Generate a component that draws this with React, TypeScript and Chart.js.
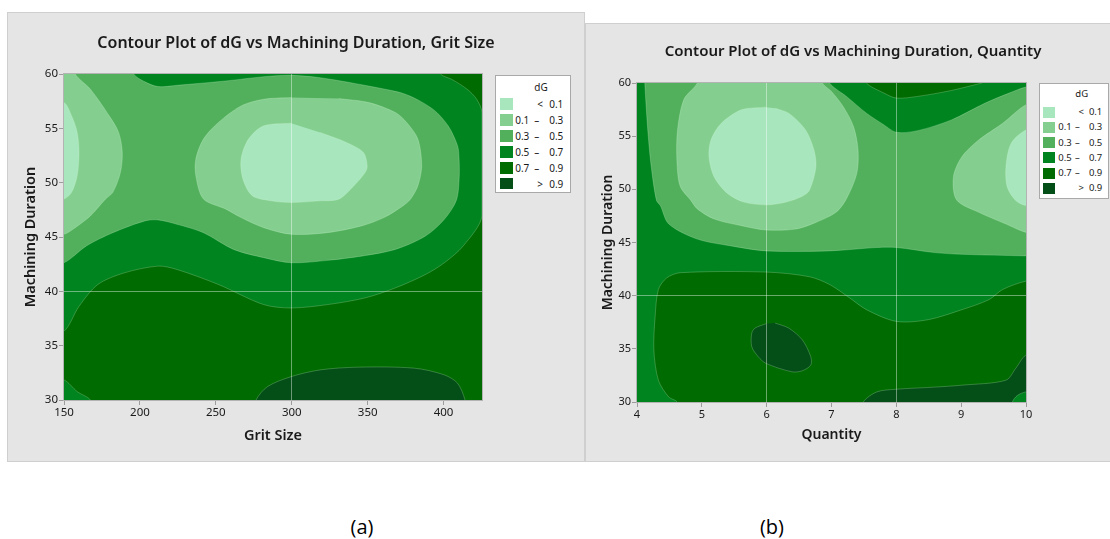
import React, { useEffect, useRef } from "react";
import { Chart, registerables } from "chart.js";

Chart.register(...registerables);

type Pt = [number, number];

// ---------------- legend bands ----------------
const bandColors = ["#a8e6bd", "#84cf90", "#52b05c", "#00841f", "#006b00", "#034f17"];
const bandLow = ["", "0.1", "0.3", "0.5", "0.7", ""];
const bandSymbol = ["<", "–", "–", "–", "–", ">"];
const bandHigh = ["0.1", "0.3", "0.5", "0.7", "0.9", "0.9"];

// ---------------- shared axis ----------------
const durationTicks = [30, 35, 40, 45, 50, 55, 60];
const durationMin = 30;
const durationMax = 60;

// ---------------- panel (a): Grit Size ----------------
const gritTicks = [150, 200, 250, 300, 350, 400];
const gritMin = 150;
const gritMax = 425.3;
const gritRefX = [300];
const gritRefY = [40];

const gritIslandAbove09: Pt[] = [
  [414.1, 29], [414.1, 30], [409.2, 31.54], [400.5, 32.31], [380.7, 32.93], [343.5, 33.02],
  [318.7, 32.77], [299.6, 32.15], [284, 31.23], [276.5, 30], [276.5, 29],
];
const gritBelow07: Pt[] = [
  [140, 36.32], [150, 36.32], [159.9, 38.62], [172.3, 40.63], [189.7, 41.7], [212, 42.32],
  [224.4, 42.01], [251.7, 40.63], [281.5, 38.78], [299.6, 38.47], [323.6, 38.78], [348.4, 39.4],
  [368.3, 40.32], [388.1, 41.55], [400.5, 42.63], [412.9, 44.17], [425.3, 46.94], [425.3, 56.45],
  [421.7, 57.7], [415.5, 58.6], [405.5, 59.5], [398, 60], [398, 61], [140, 61],
];
const gritCornerBelow07: Pt[] = [
  [140, 31.85], [150, 31.85], [158.7, 30.77], [167.4, 30], [167.4, 29], [140, 29],
];
const gritBelow05: Pt[] = [
  [140, 42.63], [150, 42.63], [165, 44.2], [182.2, 45.4], [203.3, 46.48], [212, 46.57],
  [224.4, 46.17], [241.8, 45.4], [261.6, 43.86], [281.5, 43.1], [299.6, 42.63], [323.6, 42.85],
  [345.9, 43.24], [368.3, 43.86], [388.1, 45.09], [400.5, 46.63], [408.5, 48.4], [410.3, 50.5],
  [410.2, 52.2], [409.2, 53.4], [403, 55.23], [393, 56.76], [375.7, 58.1], [355.9, 58.75],
  [318.7, 59.66], [298.8, 59.88], [281.5, 59.75], [256.6, 59.36], [224.4, 58.96], [212, 58.84],
  [203, 59.3], [195.9, 60], [195.9, 61], [140, 61],
];
const gritLeftBelow03: Pt[] = [
  [140, 45.25], [150, 45.25], [157.4, 45.86], [167.4, 46.94], [177.3, 48.48], [182.2, 49.11],
  [187.2, 50.95], [188.4, 52.78], [186, 54.62], [179.8, 56.15], [167.4, 58.6], [157.4, 60],
  [157.4, 61], [140, 61],
];
const gritCenterBelow03: Pt[] = [
  [299.6, 57.83], [281.5, 57.68], [266.6, 57.06], [251.7, 55.54], [241.8, 54.01], [236.8, 52.17],
  [236.8, 50.64], [241.8, 48.5], [256.6, 47.56], [266.6, 46.79], [281.5, 45.86], [299.6, 45.25],
  [323.6, 45.4], [345.9, 46.02], [360.8, 46.79], [373.2, 47.86], [378.2, 48.48], [383.1, 49.72],
  [385.6, 51.56], [383.1, 54.01], [375.7, 55.54], [368.3, 56.45], [350.9, 57.37], [331, 57.74],
];
const gritLeftBelow01: Pt[] = [
  [140, 57.37], [150, 57.37], [155, 56.15], [158.7, 54.62], [159.9, 52.78], [158.7, 50.64],
  [155, 49.11], [150, 48.5], [140, 48.5],
];
const gritCenterBelow01: Pt[] = [
  [299.6, 55.47], [281.5, 55.23], [271.5, 54.01], [266.6, 52.17], [267.8, 50.34], [274, 48.8],
  [286.4, 48.33], [299.6, 48.17], [318.7, 48.33], [331, 48.48], [341, 49.72], [348.4, 50.95],
  [349.7, 51.56], [347.2, 52.78], [336, 53.7], [318.7, 54.62],
];

// ---------------- panel (b): Quantity ----------------
const quantityTicks = [4, 5, 6, 7, 8, 9, 10];
const quantityMin = 4;
const quantityMax = 10;
const quantityRefX = [6, 8];
const quantityRefY = [40];

const qtyIslandAbove09: Pt[] = [
  [5.99, 37.36], [5.82, 36.95], [5.77, 36.47], [5.77, 35.21], [5.87, 34.26], [5.99, 33.63],
  [6.39, 32.84], [6.55, 32.94], [6.68, 33.47], [6.68, 34.26], [6.55, 35.84], [6.34, 36.95],
  [6.13, 37.42],
];
const qtyBottomAbove09: Pt[] = [
  [10.2, 29], [7.49, 29], [7.49, 30], [7.7, 30.95], [8.0, 31.2], [8.59, 31.4], [9.01, 31.58],
  [9.69, 32.05], [9.84, 33.15], [10, 34.42], [10.2, 34.42],
];
const qtyCornerBelow07: Pt[] = [
  [10.2, 29], [9.79, 29], [9.79, 30], [9.87, 30.63], [10, 30.95], [10.2, 30.95],
];
const qtyBelow07: Pt[] = [
  [4.62, 29], [4.62, 30], [4.49, 30.47], [4.33, 32.05], [4.26, 34.9], [4.28, 38.05],
  [4.33, 40.58], [4.46, 41.68], [4.67, 42.16], [5.99, 42.22], [6.66, 41.78], [6.97, 41.05],
  [7.28, 39.79], [7.54, 38.68], [8.0, 37.58], [8.49, 37.74], [9.01, 38.68], [9.43, 39.63],
  [9.64, 40.58], [10, 41.37], [10.2, 41.37], [10.2, 61], [3.8, 61], [3.8, 29],
];
const qtyTopAbove07: Pt[] = [
  [9.32, 61], [7.54, 61], [7.54, 60], [7.81, 59.05], [8.0, 58.58], [8.33, 58.74],
  [8.85, 59.3], [9.32, 60],
];
const qtyBelow05: Pt[] = [
  [4.12, 61], [4.12, 60], [4.17, 55.27], [4.22, 52.11], [4.3, 48.96], [4.36, 48.47],
  [4.49, 46.74], [4.93, 45.32], [5.45, 44.68], [5.99, 44.21], [6.97, 44.21], [7.7, 44.53],
  [8.0, 44.53], [8.59, 44.05], [9.01, 43.89], [10, 43.74], [10.2, 43.74], [10.2, 59.62],
  [10, 59.62], [9.74, 59.05], [9.37, 58.11], [8.85, 56.53], [8.33, 55.52], [8.0, 55.36],
  [7.81, 56.06], [7.54, 57.16], [7.23, 58.74], [6.97, 60], [6.97, 61],
];
const qtyCenterBelow03: Pt[] = [
  [4.93, 61], [4.93, 60], [4.72, 58.42], [4.62, 55.27], [4.62, 52.11], [4.67, 50.22],
  [4.83, 48.96], [4.93, 48.16], [5.19, 47.21], [5.61, 46.58], [5.99, 46.17], [6.45, 46.26],
  [6.76, 46.89], [7.07, 47.84], [7.23, 49.1], [7.39, 51.48], [7.41, 53.69], [7.34, 55.9],
  [7.18, 57.79], [7.0, 59.2], [6.86, 60], [6.86, 61],
];
const qtyRightBelow03: Pt[] = [
  [10.2, 57.95], [10, 57.95], [9.64, 56.21], [9.27, 54.64], [9.01, 53.06], [8.88, 51.17],
  [8.93, 49.0], [9.27, 47.84], [9.69, 46.74], [10, 45.95], [10.2, 45.95],
];
const qtyCenterBelow01: Pt[] = [
  [5.99, 57.73], [5.61, 57.48], [5.3, 56.21], [5.14, 54.64], [5.11, 53.06], [5.19, 51.17],
  [5.4, 49.59], [5.65, 48.8], [5.99, 48.54], [6.29, 48.79], [6.55, 49.35], [6.66, 49.91],
  [6.76, 52.11], [6.73, 53.69], [6.6, 55.58], [6.34, 57.16], [6.13, 57.63],
];
const qtyRightBelow01: Pt[] = [
  [10.2, 55.58], [10, 55.58], [9.77, 54.32], [9.69, 52.11], [9.71, 50.22], [9.84, 48.96],
  [10, 48.47], [10.2, 48.47],
];

// layers drawn bottom -> top: [band index, polygon]
const gritLayers: [number, Pt[]][] = [
  [5, gritIslandAbove09],
  [3, gritBelow07],
  [3, gritCornerBelow07],
  [2, gritBelow05],
  [1, gritLeftBelow03],
  [1, gritCenterBelow03],
  [0, gritLeftBelow01],
  [0, gritCenterBelow01],
];
const quantityLayers: [number, Pt[]][] = [
  [5, qtyIslandAbove09],
  [5, qtyBottomAbove09],
  [3, qtyCornerBelow07],
  [3, qtyBelow07],
  [4, qtyTopAbove07],
  [2, qtyBelow05],
  [1, qtyCenterBelow03],
  [1, qtyRightBelow03],
  [0, qtyCenterBelow01],
  [0, qtyRightBelow01],
];

// ---------------- styling / layout ----------------
const FONT = "'Noto Sans', 'DejaVu Sans', sans-serif";
const TEXT = "#1a1a1a";

interface PanelSpec {
  left: number; top: number; width: number; height: number;
  title: string; titleSize: number; titlePadTop: number; titlePadBottom: number;
  xTitle: string; yTitle: string; axisTitleSize: number; xTitlePadBottom: number; yTitlePadTop: number;
  xMin: number; xMax: number; xTicks: number[]; refX: number[]; refY: number[];
  yAxisW: number; xAxisH: number; rightW: number; tickSize: number;
  layers: [number, Pt[]][]; backgroundBand: number;
}

const gritPanel: PanelSpec = {
  left: 7, top: 12, width: 578, height: 450,
  title: "Contour Plot of dG vs Machining Duration, Grit Size", titleSize: 16, titlePadTop: 21.9, titlePadBottom: 20.9,
  xTitle: "Grit Size", yTitle: "Machining Duration", axisTitleSize: 14.5, xTitlePadBottom: 17.3, yTitlePadTop: 15.3,
  xMin: gritMin, xMax: gritMax, xTicks: gritTicks, refX: gritRefX, refY: gritRefY,
  yAxisW: 57, xAxisH: 62, rightW: 103, tickSize: 11.5,
  layers: gritLayers, backgroundBand: 4,
};

const quantityPanel: PanelSpec = {
  left: 585, top: 23, width: 536, height: 439,
  title: "Contour Plot of dG vs Machining Duration, Quantity", titleSize: 15, titlePadTop: 20, titlePadBottom: 22,
  xTitle: "Quantity", yTitle: "Machining Duration", axisTitleSize: 14, xTitlePadBottom: 18.1, yTitlePadTop: 14.2,
  xMin: quantityMin, xMax: quantityMax, xTicks: quantityTicks, refX: quantityRefX, refY: quantityRefY,
  yAxisW: 52, xAxisH: 60, rightW: 95, tickSize: 11,
  layers: quantityLayers, backgroundBand: 4,
};

interface LegendSpec {
  left: number; top: number; width: number; height: number; fontSize: number;
  titleX: number; titleY: number; swX: number; swY: number; swW: number; swH: number; pitch: number;
  lowRight: number; symX: number; ltX: number; highRight: number;
}

const gritLegend: LegendSpec = {
  left: 495, top: 75, width: 76, height: 118, fontSize: 10,
  titleX: 46, titleY: 12, swX: 5, swY: 23.3, swW: 12.7, swH: 11.7, pitch: 15.9,
  lowRight: 34.3, symX: 41.7, ltX: 45, highRight: 68.3,
};
const quantityLegend: LegendSpec = {
  left: 1039, top: 83, width: 70, height: 116, fontSize: 9.5,
  titleX: 42.7, titleY: 11, swX: 3.7, swY: 23.7, swW: 12.3, swH: 11, pitch: 15.2,
  lowRight: 32.7, symX: 38.3, ltX: 42.3, highRight: 63.3,
};

// ---------------- plugins ----------------
const plotBackground = {
  id: "plotBackground",
  beforeDatasetsDraw(chart: any, _args: any, opts: any) {
    const { ctx, chartArea: a } = chart;
    ctx.save();
    ctx.fillStyle = opts.color;
    ctx.fillRect(a.left, a.top, a.right - a.left, a.bottom - a.top);
    ctx.restore();
  },
};
const plotFrame = {
  id: "plotFrame",
  afterDraw(chart: any) {
    const { ctx, chartArea: a } = chart;
    ctx.save();
    ctx.strokeStyle = "#b3b3b3";
    ctx.lineWidth = 1;
    ctx.strokeRect(a.left - 0.5, a.top - 0.5, a.right - a.left + 1, a.bottom - a.top + 1);
    ctx.restore();
  },
};

function ContourPanel({ spec }: { spec: PanelSpec }) {
  const ref = useRef<HTMLCanvasElement>(null);
  useEffect(() => {
    const canvas = ref.current as HTMLCanvasElement;
    const n = spec.layers.length;
    const datasets = spec.layers.map(([band, pts], i) => ({
      type: "line",
      data: pts.map(([x, y]) => ({ x, y })),
      backgroundColor: bandColors[band],
      borderColor: "rgba(215,245,215,0.35)",
      borderWidth: 0.7,
      pointRadius: 0,
      pointHoverRadius: 0,
      pointHitRadius: 0,
      fill: "shape",
      tension: 0.3,
      order: n - i,
    }));
    const gridColor = (refs: number[]) => (c: any) =>
      c.tick && refs.includes(c.tick.value) ? "rgba(255,255,255,0.42)" : "rgba(0,0,0,0)";
    const tickFont = { family: FONT, size: spec.tickSize };
    const titleFont = { family: FONT, size: spec.axisTitleSize, weight: "600" };
    const chart = new Chart(canvas, {
      type: "line",
      data: { datasets } as any,
      options: {
        animation: false,
        responsive: false,
        events: [],
        layout: { padding: 0 },
        plugins: {
          legend: { display: false },
          tooltip: { enabled: false },
          title: {
            display: true,
            text: spec.title,
            color: TEXT,
            font: { family: FONT, size: spec.titleSize, weight: "600" },
            padding: { top: spec.titlePadTop, bottom: spec.titlePadBottom },
          },
          plotBackground: { color: bandColors[spec.backgroundBand] },
        } as any,
        scales: {
          x: {
            type: "linear",
            min: spec.xMin,
            max: spec.xMax,
            afterBuildTicks: (s: any) => { s.ticks = spec.xTicks.map((v) => ({ value: v })); },
            afterFit: (s: any) => { s.height = spec.xAxisH; },
            ticks: { autoSkip: false, maxRotation: 0, padding: 1, color: TEXT, font: tickFont },
            grid: { z: 1, drawOnChartArea: true, drawTicks: true, tickLength: 5, tickColor: "#9c9c9c", lineWidth: 1, color: gridColor(spec.refX) },
            border: { display: false },
            title: { display: true, text: spec.xTitle, color: TEXT, font: titleFont, padding: { top: 0, bottom: spec.xTitlePadBottom } },
          },
          y: {
            type: "linear",
            position: "left",
            min: durationMin,
            max: durationMax,
            afterBuildTicks: (s: any) => { s.ticks = durationTicks.map((v) => ({ value: v })); },
            afterFit: (s: any) => { s.width = spec.yAxisW; },
            ticks: { autoSkip: false, padding: 1, color: TEXT, font: tickFont },
            grid: { z: 1, drawOnChartArea: true, drawTicks: true, tickLength: 5, tickColor: "#9c9c9c", lineWidth: 1, color: gridColor(spec.refY) },
            border: { display: false },
            title: { display: true, text: spec.yTitle, color: TEXT, font: titleFont, padding: { top: spec.yTitlePadTop, bottom: 0 } },
          },
          yPad: {
            type: "linear",
            position: "right",
            display: true,
            ticks: { display: false },
            grid: { display: false, drawTicks: false },
            border: { display: false },
            afterFit: (s: any) => { s.width = spec.rightW; },
          },
        } as any,
      },
      plugins: [plotBackground, plotFrame],
    } as any);
    return () => chart.destroy();
  }, [spec]);
  return (
    <canvas
      ref={ref}
      width={spec.width}
      height={spec.height}
      style={{ position: "absolute", left: spec.left, top: spec.top, width: spec.width, height: spec.height }}
    />
  );
}

function DgLegend({ s }: { s: LegendSpec }) {
  const lh = 16;
  return (
    <div
      style={{
        position: "absolute", left: s.left, top: s.top, width: s.width, height: s.height,
        background: "#ffffff", border: "1px solid #a9a9a9", boxSizing: "border-box",
        fontFamily: FONT, fontSize: s.fontSize, color: TEXT,
      }}
    >
      <div style={{ position: "absolute", left: s.titleX - 1 - 20, width: 40, textAlign: "center", top: s.titleY - 1 - lh / 2, lineHeight: `${lh}px` }}>dG</div>
      {bandColors.map((c, i) => {
        const top = s.swY - 1 + i * s.pitch + s.swH / 2 - lh / 2;
        return (
          <React.Fragment key={i}>
            <div style={{ position: "absolute", left: s.swX - 1, top: s.swY - 1 + i * s.pitch, width: s.swW, height: s.swH, background: c }} />
            {bandLow[i] ? (
              <div style={{ position: "absolute", right: s.width - 1 - s.lowRight, top, lineHeight: `${lh}px`, whiteSpace: "nowrap" }}>{bandLow[i]}</div>
            ) : null}
            <div style={{ position: "absolute", left: (bandLow[i] ? s.symX : s.ltX) - 1 - 10, width: 20, textAlign: "center", top, lineHeight: `${lh}px` }}>{bandSymbol[i]}</div>
            <div style={{ position: "absolute", right: s.width - 1 - s.highRight, top, lineHeight: `${lh}px`, whiteSpace: "nowrap" }}>{bandHigh[i]}</div>
          </React.Fragment>
        );
      })}
    </div>
  );
}

const panelBox = (left: number, top: number, width: number, height: number) => ({
  position: "absolute" as const, left, top, width, height,
  background: "#e5e5e5", border: "1px solid #cfcfcf", boxSizing: "border-box" as const,
});

const captionStyle = (cx: number) => ({
  position: "absolute" as const, left: cx - 40, width: 80, top: 514, textAlign: "center" as const,
  fontFamily: "'Open Sans', 'Noto Sans', sans-serif", fontSize: 20, lineHeight: "26px", color: "#000",
});

export default function App() {
  return (
    <div style={{ position: "fixed", left: 0, top: 0, width: 1110, height: 539, overflow: "hidden", background: "#ffffff" }}>
      <div style={panelBox(7, 12, 578, 450)} />
      <div style={panelBox(585, 23, 536, 439)} />
      <ContourPanel spec={gritPanel} />
      <ContourPanel spec={quantityPanel} />
      <DgLegend s={gritLegend} />
      <DgLegend s={quantityLegend} />
      <div style={captionStyle(362)}>(a)</div>
      <div style={captionStyle(772)}>(b)</div>
    </div>
  );
}
